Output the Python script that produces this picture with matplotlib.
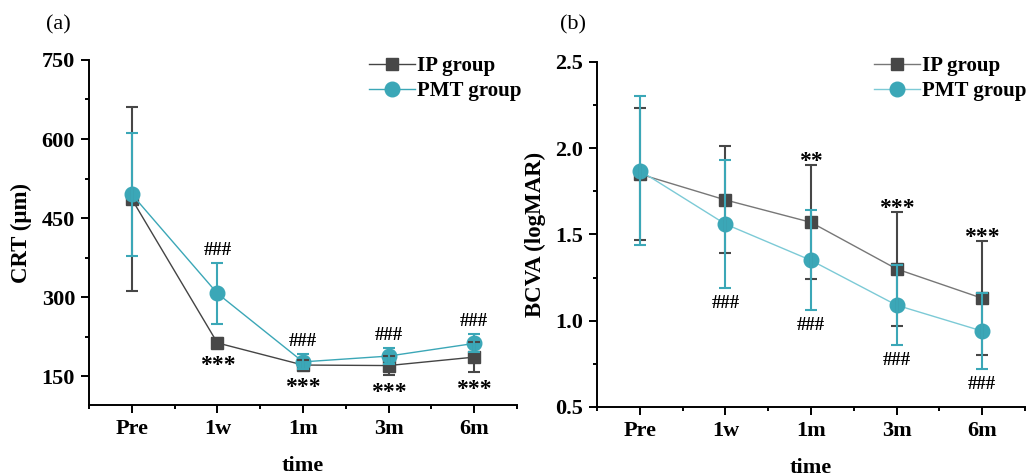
import matplotlib
matplotlib.use('Agg')
import matplotlib.pyplot as plt
from matplotlib.ticker import MultipleLocator

# data
times = ['Pre', '1w', '1m', '3m', '6m']

crt_ip = [486, 213, 171, 170, 186]
crt_ip_err = [174, 10, 10, 18, 29]
crt_pmt = [495, 307, 177, 188, 212]
crt_pmt_err = [117, 58, 14, 15, 17]
crt_ip_sig = ['', '***', '***', '***', '***']
crt_pmt_sig = ['', '###', '###', '###', '###']

bcva_ip = [1.85, 1.70, 1.57, 1.30, 1.13]
bcva_ip_err = [0.38, 0.31, 0.33, 0.33, 0.33]
bcva_pmt = [1.87, 1.56, 1.35, 1.09, 0.94]
bcva_pmt_err = [0.43, 0.37, 0.29, 0.23, 0.22]
bcva_ip_sig = ['', '', '**', '***', '***']
bcva_pmt_sig = ['', '###', '###', '###', '###']

IP_COLOR = '#474747'
PMT_COLOR = '#3ba7b7'

plt.rcParams['font.family'] = ['Liberation Serif', 'DejaVu Serif']
plt.rcParams['font.weight'] = 'bold'
plt.rcParams['axes.labelweight'] = 'bold'
plt.rcParams['axes.linewidth'] = 1.4


def draw_panel(ax, ip, ip_err, pmt, pmt_err, ip_sig, pmt_sig, ip_above, line_ip, line_pmt):
    x = list(range(len(times)))
    ax.plot(x, ip, color=line_ip, lw=1.0, marker='s', ms=9,
            mfc=IP_COLOR, mec=IP_COLOR, label='IP group', zorder=2)
    ax.plot(x, pmt, color=line_pmt, lw=1.0, marker='o', ms=10.5,
            mfc=PMT_COLOR, mec=PMT_COLOR, label='PMT group', zorder=2)
    ax.errorbar(x, ip, yerr=ip_err, fmt='none', ecolor=IP_COLOR,
                elinewidth=1.5, capsize=4, capthick=1.5, zorder=3)
    ax.errorbar(x, pmt, yerr=pmt_err, fmt='none', ecolor=PMT_COLOR,
                elinewidth=1.5, capsize=4, capthick=1.5, zorder=4)

    for i in x:
        if ip_sig[i]:
            if ip_above:
                ax.annotate(ip_sig[i], (i, ip[i] + ip_err[i]), xytext=(0, -5),
                            textcoords='offset points', ha='center', va='bottom',
                            fontsize=17, fontweight='bold')
            else:
                ax.annotate(ip_sig[i], (i, ip[i] - ip_err[i]), xytext=(0, -5),
                            textcoords='offset points', ha='center', va='top',
                            fontsize=17, fontweight='bold')
        if pmt_sig[i]:
            if ip_above:
                ax.annotate(pmt_sig[i], (i, pmt[i] - pmt_err[i]), xytext=(0, -5),
                            textcoords='offset points', ha='center', va='top',
                            fontsize=13.5, fontweight='bold')
            else:
                ax.annotate(pmt_sig[i], (i, pmt[i] + pmt_err[i]), xytext=(0, 3),
                            textcoords='offset points', ha='center', va='bottom',
                            fontsize=13.5, fontweight='bold')

    ax.set_xlim(-0.5, 4.5)
    ax.set_xticks(x)
    ax.set_xticklabels(times)
    ax.xaxis.set_minor_locator(MultipleLocator(0.5))
    ax.spines['top'].set_visible(False)
    ax.spines['right'].set_visible(False)
    ax.tick_params(which='major', direction='out', length=6, width=1.4,
                   labelsize=16, pad=4)
    ax.tick_params(which='minor', direction='out', length=3, width=1.4)
    ax.set_xlabel('time', fontsize=16, labelpad=12)


fig = plt.figure(figsize=(10.3, 4.76), dpi=100)
ax1 = fig.add_axes([0.0864, 0.149, 0.4155, 0.725])
ax2 = fig.add_axes([0.5796, 0.145, 0.4155, 0.725])

draw_panel(ax1, crt_ip, crt_ip_err, crt_pmt, crt_pmt_err, crt_ip_sig, crt_pmt_sig,
           False, '#444444', '#3ba7b7')
ax1.set_ylim(95, 750)
ax1.set_yticks([150, 300, 450, 600, 750])
ax1.yaxis.set_minor_locator(MultipleLocator(75))
ax1.set_ylabel('CRT (μm)', fontsize=16.5, labelpad=7)

draw_panel(ax2, bcva_ip, bcva_ip_err, bcva_pmt, bcva_pmt_err, bcva_ip_sig, bcva_pmt_sig,
           True, '#777777', '#7ccad6')
ax2.set_ylim(0.5, 2.5)
ax2.set_yticks([0.5, 1.0, 1.5, 2.0, 2.5])
ax2.set_yticklabels(['0.5', '1.0', '1.5', '2.0', '2.5'])
ax2.yaxis.set_minor_locator(MultipleLocator(0.25))
ax2.set_ylabel('BCVA (logMAR)', fontsize=16.5, labelpad=7)

for ax, x0 in [(ax1, 369 / 1030), (ax2, 874 / 1030)]:
    ax.legend(loc='upper left', bbox_to_anchor=(x0, 0.882), bbox_transform=fig.transFigure,
              frameon=False, fontsize=15, handlelength=2.2, handletextpad=0.1,
              borderpad=0, borderaxespad=0, labelspacing=0.25)

fig.text(58 / 1030, 1 - 25 / 476, '(a)', fontsize=16, fontweight='normal',
         ha='center', va='center')
fig.text(573 / 1030, 1 - 25 / 476, '(b)', fontsize=16, fontweight='normal',
         ha='center', va='center')

fig.savefig('out.png', dpi=100)
